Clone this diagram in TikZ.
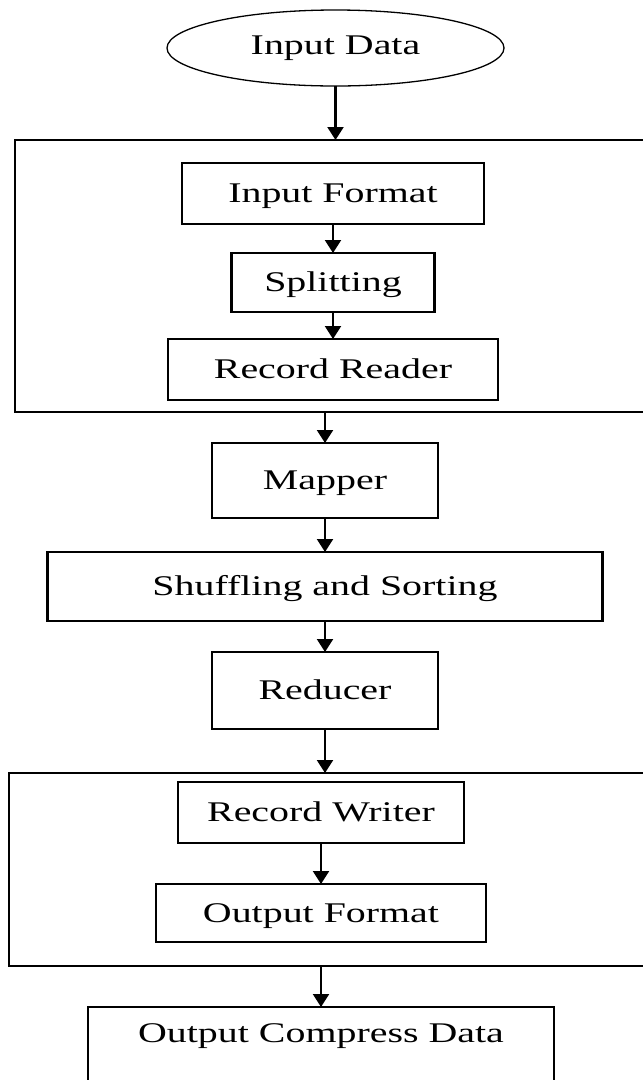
\documentclass[tikz,border=0pt]{standalone}
\usepackage{fontspec}
\setmainfont{Liberation Serif}[FakeStretch=1.4]
\usetikzlibrary{arrows.meta, positioning, shapes.geometric}

\begin{document}
\begin{tikzpicture}[
    font=\fontsize{28.5pt}{34pt}\selectfont,
    terminal/.style={
        ellipse, draw, line width=1.3pt, outer sep=0pt,
        minimum width=337pt, minimum height=76pt
    },
    stagebox/.style={
        rectangle, draw, line width=2.2pt, inner sep=0pt, outer sep=0pt,
        text height=21.4pt, text depth=2.9pt, align=center
    },
    stageframe/.style={
        rectangle, draw, line width=2.2pt, inner sep=0pt, outer sep=0pt
    },
    arrow/.style={-{Triangle[width=16pt,length=13pt]}, line width=2.2pt},
]

\useasboundingbox (0,0) rectangle (643pt,-1080pt);
\clip (0,0) rectangle (643pt,-1080pt);

\node[terminal] (data) at (335.5pt,-48pt) {Input Data};

\node[stageframe, minimum width=645pt, minimum height=272pt, below=54pt of data, xshift=2pt] (readstage) {};
\node[stagebox, minimum width=302pt, minimum height=61pt, below=23pt of readstage.north, xshift=-4.5pt] (inform) {Input Format};
\node[stagebox, minimum width=203pt, minimum height=59pt, below=29pt of inform] (split) {Splitting};
\node[stagebox, minimum width=330pt, minimum height=61pt, below=27pt of split] (rreader) {Record Reader};

\node[stagebox, minimum width=226pt, minimum height=75pt, below=31pt of readstage, xshift=-12.5pt] (mapper) {Mapper};
\node[stagebox, minimum width=555pt, minimum height=69pt, below=34pt of mapper] (shuffle) {Shuffling and Sorting};
\node[stagebox, minimum width=226pt, minimum height=77pt, below=31pt of shuffle] (reducer) {Reducer};

\node[stageframe, minimum width=651pt, minimum height=193pt, below=44pt of reducer, xshift=9.5pt] (writestage) {};
\node[stagebox, minimum width=286pt, minimum height=61pt, below=9pt of writestage.north, xshift=-13.5pt] (rwriter) {Record Writer};
\node[stagebox, minimum width=330pt, minimum height=58pt, below=41pt of rwriter] (oformat) {Output Format};
\node[stagebox, minimum width=466pt, text height=35.7pt, text depth=57pt, below=41pt of writestage, xshift=-13.5pt] (compress) {Output Compress Data};

\draw[arrow] (data.south) -- (data.south |- readstage.north);
\draw[arrow] (inform.south) -- (split.north);
\draw[arrow] (split.south) -- (rreader.north);
\draw[arrow] (readstage.south -| mapper.north) -- (mapper.north);
\draw[arrow] (mapper.south) -- (shuffle.north);
\draw[arrow] (shuffle.south) -- (reducer.north);
\draw[arrow] (reducer.south) -- (reducer.south |- writestage.north);
\draw[arrow] (rwriter.south) -- (oformat.north);
\draw[arrow] (writestage.south -| compress.north) -- (compress.north);

\end{tikzpicture}
\end{document}
